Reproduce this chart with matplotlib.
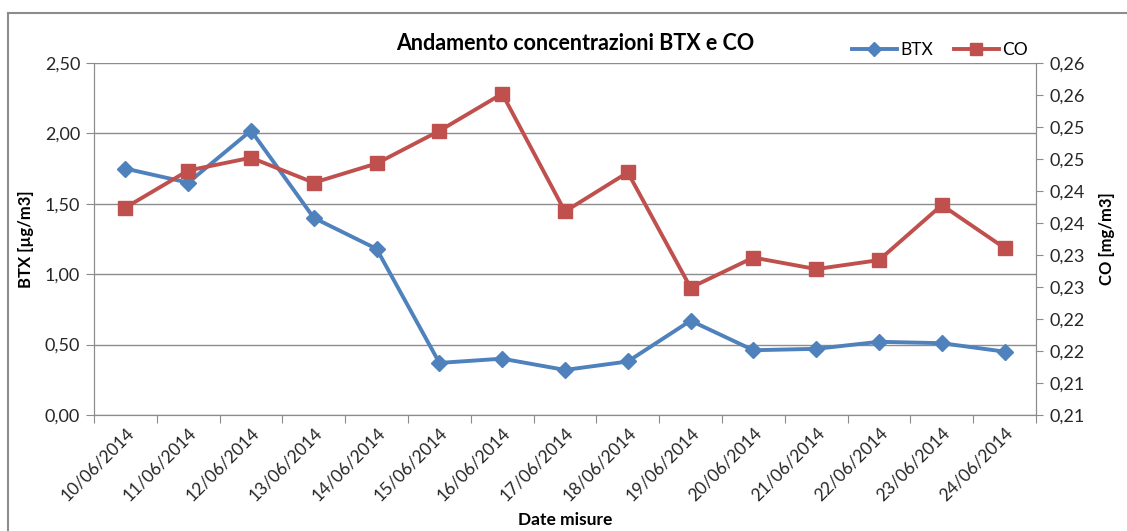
from decimal import Decimal, ROUND_HALF_UP
import matplotlib
matplotlib.use("Agg")
import matplotlib.pyplot as plt
from matplotlib.ticker import MultipleLocator, FuncFormatter, FixedLocator
from matplotlib.lines import Line2D

plt.rcParams["font.family"] = ["Lato", "DejaVu Sans"]

dates = ["10/06/2014", "11/06/2014", "12/06/2014", "13/06/2014", "14/06/2014",
         "15/06/2014", "16/06/2014", "17/06/2014", "18/06/2014", "19/06/2014",
         "20/06/2014", "21/06/2014", "22/06/2014", "23/06/2014", "24/06/2014"]
btx = [1.75, 1.65, 2.02, 1.40, 1.18, 0.37, 0.40, 0.32, 0.38, 0.67,
       0.46, 0.47, 0.52, 0.51, 0.45]
co = [0.2374, 0.2432, 0.2452, 0.2413, 0.2443, 0.2494, 0.2552, 0.2368, 0.2429,
      0.2249, 0.2296, 0.2278, 0.2292, 0.2378, 0.2311]

blue = "#4F81BD"
red = "#C0504D"
grid_c = "#8C8C8C"
txt = "#262626"

fig = plt.figure(figsize=(11.27, 5.31), dpi=100)
ax = fig.add_axes([94 / 1127, 1 - 415 / 531, (1036 - 94) / 1127, (415 - 63) / 531])
ax2 = ax.twinx()

x = list(range(len(dates)))
ax.plot(x, btx, color=blue, lw=2.8, marker="D", ms=8.5, label="BTX", zorder=3)
ax2.plot(x, co, color=red, lw=2.8, marker="s", ms=10.5, label="CO", zorder=3)

ax.set_xlim(-0.5, len(dates) - 0.5)
ax.set_ylim(0, 2.5)
ax2.set_ylim(0.205, 0.26)

ax.yaxis.set_major_locator(MultipleLocator(0.5))
ax.yaxis.set_major_formatter(FuncFormatter(lambda v, p: f"{v:.2f}".replace(".", ",")))


def fmt_co(v, p):
    d = Decimal(f"{v:.4f}").quantize(Decimal("0.01"), rounding=ROUND_HALF_UP)
    return str(d).replace(".", ",")


ax2.yaxis.set_major_locator(MultipleLocator(0.005))
ax2.yaxis.set_major_formatter(FuncFormatter(fmt_co))

ax.xaxis.set_major_locator(FixedLocator([i - 0.5 for i in range(len(dates) + 1)]))
ax.xaxis.set_major_formatter(FuncFormatter(lambda v, p: ""))
ax.xaxis.set_minor_locator(FixedLocator(x))
ax.set_xticklabels(dates, minor=True, rotation=45, ha="right", va="top",
                   rotation_mode="anchor", fontsize=12.5, color=txt)
ax.tick_params(axis="x", which="minor", length=0, pad=7)
ax.tick_params(axis="x", which="major", length=6, color=grid_c)

ax.grid(axis="y", color=grid_c, lw=1)
ax.set_axisbelow(True)
for a in (ax, ax2):
    for s in a.spines.values():
        s.set_color(grid_c)
    a.spines["top"].set_visible(False)
ax.tick_params(axis="y", length=6, color=grid_c, labelsize=13, labelcolor=txt, pad=4)
ax2.tick_params(axis="y", length=5, color=grid_c, labelsize=13, labelcolor=txt, pad=5)

ax.set_ylabel("BTX [µg/m3]", fontsize=12, fontweight="bold", labelpad=8)
ax2.set_ylabel("CO [mg/m3]", fontsize=12, fontweight="bold", labelpad=10)
ax.set_xlabel("Date misure", fontsize=12.5, fontweight="bold", labelpad=6)

fig.text(575 / 1127, 1 - 43 / 531, "Andamento concentrazioni BTX e CO",
         ha="center", va="center", fontsize=15.5, fontweight="bold", color="black")

h1, l1 = ax.get_legend_handles_labels()
h2, l2 = ax2.get_legend_handles_labels()
fig.legend(h1 + h2, l1 + l2, loc="center", bbox_to_anchor=(940 / 1127, 1 - 50 / 531),
           ncol=2, frameon=False, fontsize=12.5, handlelength=2.6, columnspacing=1.2,
           handletextpad=0.2, markerscale=0.8)

# outer chart border (left and top visible)
fig.add_artist(Line2D([8 / 1127, 8 / 1127], [0, 1 - 13 / 531], color="#8C8C8C", lw=1.5))
fig.add_artist(Line2D([8 / 1127, 1], [1 - 13 / 531, 1 - 13 / 531], color="#8C8C8C", lw=1.5))

fig.savefig("out.png", dpi=100)
